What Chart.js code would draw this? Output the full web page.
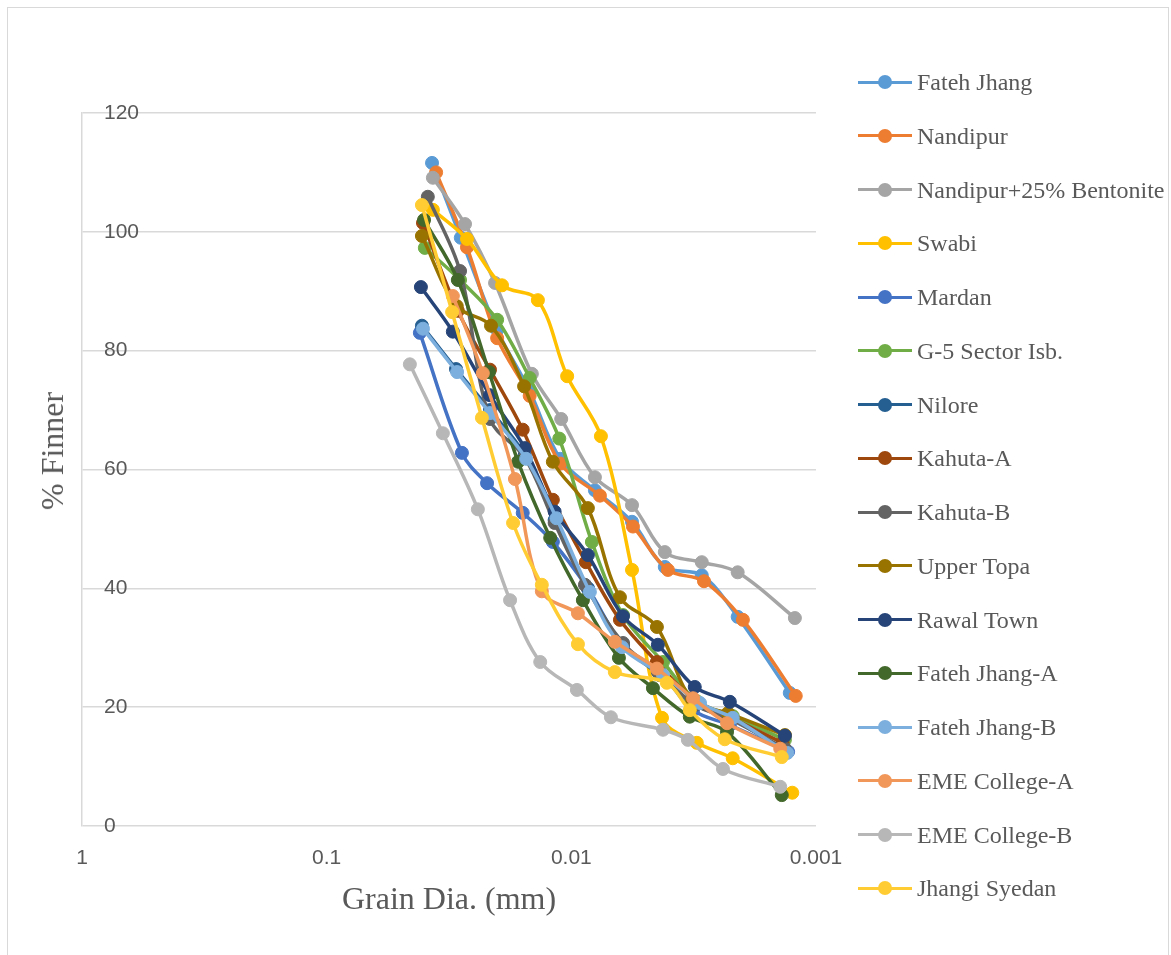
<!DOCTYPE html>
<html>
<head>
<meta charset="utf-8">
<title>Grain size distribution</title>
<script src="https://cdn.jsdelivr.net/npm/chart.js@4/dist/chart.umd.min.js"></script>
<style>
  html, body { margin: 0; padding: 0; background: #ffffff; }
  body { width: 1171px; height: 955px; position: relative; overflow: hidden; }
  #frame { position: absolute; left: 7px; top: 7px; width: 1162px; height: 970px;
           border: 1.5px solid #d9d9d9; box-sizing: border-box; }
  #chart { position: absolute; left: 0; top: 0; }
  .ttl { position: absolute; font-family: "Liberation Serif", "Times New Roman", serif;
         font-size: 32px; line-height: 32px; color: #595959; white-space: nowrap; }
  #xTitle { left: 449px; top: 882px; transform: translateX(-50%); }
  #yTitle { left: 52px; top: 451px; transform: translate(-50%, -50%) rotate(-90deg); }
  .lg-line { position: absolute; height: 3px; width: 54px; left: 858px; }
  .lg-dot { position: absolute; width: 14px; height: 14px; border-radius: 50%; left: 878px; }
  .lg-text { position: absolute; left: 917px; font-family: "Liberation Serif", "Times New Roman", serif;
             font-size: 24px; line-height: 24px; color: #595959; white-space: nowrap; }
</style>
</head>
<body>
<div id="frame"></div>
<canvas id="chart" width="1171" height="955"></canvas>
<div id="xTitle" class="ttl">Grain Dia. (mm)</div>
<div id="yTitle" class="ttl">% Finner</div>
<div id="legend"></div>
<script>
// Sample names, in plotting order
const seriesNames = [
  "Fateh Jhang", "Nandipur", "Nandipur+25%  Bentonite", "Swabi", "Mardan",
  "G-5 Sector Isb.", "Nilore", "Kahuta-A", "Kahuta-B", "Upper Topa",
  "Rawal Town", "Fateh Jhang-A", "Fateh Jhang-B", "EME College-A",
  "EME College-B", "Jhangi Syedan"
];

// Grain diameter (mm) and percent finer for each sample
const diaFatehJhang   = [0.0371, 0.0283, 0.0201, 0.0148, 0.0111, 0.00801, 0.00565, 0.00415, 0.00293, 0.00209, 0.00128];
const finerFatehJhang = [111.6, 99.0, 83.5, 73.2, 61.8, 56.5, 51.2, 43.6, 42.2, 35.2, 22.4];

const diaNandipur   = [0.0357, 0.0267, 0.0201, 0.0148, 0.0111, 0.00764, 0.00560, 0.00403, 0.00287, 0.00199, 0.00121];
const finerNandipur = [110.0, 97.4, 82.1, 72.4, 61.0, 55.6, 50.4, 43.1, 41.2, 34.7, 21.9];

const diaNandipurBent   = [0.0368, 0.0272, 0.0205, 0.0145, 0.0110, 0.00801, 0.00565, 0.00415, 0.00293, 0.00209, 0.00122];
const finerNandipurBent = [109.1, 101.3, 91.4, 76.1, 68.5, 58.7, 54.0, 46.1, 44.4, 42.7, 35.0];

const diaSwabi   = [0.0368, 0.0267, 0.0192, 0.0137, 0.0104, 0.00757, 0.00565, 0.00426, 0.00307, 0.00219, 0.00125];
const finerSwabi = [103.7, 98.8, 91.0, 88.5, 75.7, 65.6, 43.1, 18.2, 14.0, 11.4, 5.6];

const diaMardan   = [0.0416, 0.0280, 0.0221, 0.0158, 0.0119, 0.00856, 0.00615, 0.00435, 0.00318, 0.00225, 0.00130];
const finerMardan = [83.0, 62.8, 57.7, 52.7, 47.8, 40.0, 30.5, 26.0, 19.5, 17.0, 12.5];

const diaG5   = [0.0397, 0.0285, 0.0201, 0.0148, 0.0112, 0.00824, 0.00615, 0.00422, 0.00307, 0.00219, 0.00134];
const finerG5 = [97.3, 91.9, 85.2, 75.4, 65.2, 47.8, 35.5, 27.6, 21.0, 18.5, 14.5];

const diaNilore   = [0.0408, 0.0296, 0.0215, 0.0155, 0.0117, 0.00856, 0.00615, 0.00435, 0.00313, 0.00225, 0.00134];
const finerNilore = [84.2, 76.9, 70.0, 62.5, 51.5, 40.0, 30.5, 25.4, 20.4, 18.2, 12.8];

const diaKahutaA   = [0.0404, 0.0291, 0.0215, 0.0158, 0.0119, 0.00872, 0.00633, 0.00447, 0.00321, 0.00229, 0.00137];
const finerKahutaA = [101.5, 86.7, 76.8, 66.7, 54.9, 44.4, 34.7, 27.6, 21.5, 18.5, 14.0];

const diaKahutaB   = [0.0386, 0.0285, 0.0215, 0.0155, 0.0117, 0.00880, 0.00615, 0.00443, 0.00313, 0.00225, 0.00134];
const finerKahutaB = [105.9, 93.4, 68.5, 62.0, 51.0, 40.6, 30.8, 25.9, 20.4, 18.0, 13.0];

const diaUpperTopa   = [0.0408, 0.0294, 0.0213, 0.0156, 0.0119, 0.00856, 0.00633, 0.00447, 0.00321, 0.00229, 0.00134];
const finerUpperTopa = [99.3, 87.5, 84.2, 74.0, 61.3, 53.5, 38.5, 33.5, 21.2, 19.0, 15.3];

const diaRawalTown   = [0.0412, 0.0305, 0.0215, 0.0155, 0.0117, 0.00856, 0.00615, 0.00443, 0.00313, 0.00225, 0.00134];
const finerRawalTown = [90.7, 83.2, 72.5, 63.6, 52.9, 45.6, 35.3, 30.5, 23.4, 20.9, 15.2];

const diaFatehJhangA   = [0.0400, 0.0291, 0.0217, 0.0165, 0.0122, 0.00897, 0.00639, 0.00464, 0.00328, 0.00231, 0.00138];
const finerFatehJhangA = [102.0, 91.9, 76.4, 61.3, 48.5, 38.0, 28.3, 23.2, 18.4, 15.8, 5.2];

const diaFatehJhangB   = [0.0404, 0.0293, 0.0215, 0.0153, 0.0115, 0.00840, 0.00621, 0.00422, 0.00298, 0.00219, 0.00131];
const finerFatehJhangB = [83.7, 76.4, 69.5, 61.8, 51.8, 39.4, 30.1, 25.4, 20.7, 18.2, 12.3];

const diaEmeA   = [0.0305, 0.0230, 0.0170, 0.0132, 0.00940, 0.00664, 0.00447, 0.00318, 0.00231, 0.00140];
const finerEmeA = [89.2, 76.2, 58.4, 39.5, 35.8, 31.0, 26.5, 21.5, 17.3, 13.0];

const diaEmeB   = [0.0457, 0.0335, 0.0241, 0.0178, 0.0134, 0.00949, 0.00689, 0.00422, 0.00334, 0.00240, 0.00140];
const finerEmeB = [77.7, 66.1, 53.3, 38.0, 27.6, 22.9, 18.3, 16.2, 14.5, 9.6, 6.6];

const diaJhangiSyedan   = [0.0408, 0.0307, 0.0232, 0.0173, 0.0132, 0.00940, 0.00664, 0.00407, 0.00328, 0.00236, 0.00138];
const finerJhangiSyedan = [104.5, 86.5, 68.7, 51.0, 40.6, 30.6, 25.9, 24.1, 19.5, 14.6, 11.6];

const grainDia = [
  diaFatehJhang, diaNandipur, diaNandipurBent, diaSwabi, diaMardan, diaG5, diaNilore,
  diaKahutaA, diaKahutaB, diaUpperTopa, diaRawalTown, diaFatehJhangA, diaFatehJhangB,
  diaEmeA, diaEmeB, diaJhangiSyedan
];
const percentFiner = [
  finerFatehJhang, finerNandipur, finerNandipurBent, finerSwabi, finerMardan, finerG5, finerNilore,
  finerKahutaA, finerKahutaB, finerUpperTopa, finerRawalTown, finerFatehJhangA, finerFatehJhangB,
  finerEmeA, finerEmeB, finerJhangiSyedan
];

// Axis ticks
const xTickValues = [1, 0.1, 0.01, 0.001];
const xTickLabels = ["1", "0.1", "0.01", "0.001"];
const yTickValues = [0, 20, 40, 60, 80, 100, 120];

// Series colours
const palette = [
  "#5B9BD5", "#ED7D31", "#A5A5A5", "#FFC000", "#4472C4", "#70AD47",
  "#255E91", "#9E480E", "#636363", "#997300", "#264478", "#43682B",
  "#7CAFDD", "#F1975A", "#B7B7B7", "#FFCD33"
];

const tickFont = { family: "'Liberation Sans', Arial, sans-serif", size: 21 };
const axisGrey = "#595959";

const datasets = seriesNames.map((name, i) => ({
  label: name,
  data: grainDia[i].map((d, k) => ({ x: d, y: percentFiner[i][k] })),
  borderColor: palette[i],
  backgroundColor: palette[i],
  pointBackgroundColor: palette[i],
  pointBorderColor: palette[i],
  borderWidth: 3.5,
  pointRadius: 6.5,
  pointBorderWidth: 1,
  pointHoverRadius: 6.5,
  tension: 0.35,
  fill: false,
  order: seriesNames.length - i
}));

new Chart(document.getElementById("chart"), {
  type: "line",
  data: { datasets },
  options: {
    responsive: false,
    animation: false,
    events: [],
    layout: { padding: { top: 113, right: 355, bottom: 0, left: 0 } },
    plugins: { legend: { display: false }, tooltip: { enabled: false } },
    scales: {
      x: {
        type: "logarithmic",
        reverse: true,
        min: 0.001,
        max: 1,
        afterBuildTicks: s => { s.ticks = xTickValues.map(v => ({ value: v })); },
        afterFit: s => { s.height = 129; },
        grid: { display: false, drawTicks: false },
        border: { display: false },
        ticks: {
          autoSkip: false,
          maxRotation: 0,
          padding: 20,
          font: tickFont,
          color: axisGrey,
          callback: (v, idx) => xTickLabels[idx]
        }
      },
      y: {
        min: 0,
        max: 120,
        afterBuildTicks: s => { s.ticks = yTickValues.map(v => ({ value: v })); },
        afterFit: s => { s.width = 82; },
        grid: { color: "#d9d9d9", lineWidth: 1.5, drawTicks: false },
        border: { display: true, color: "#d9d9d9", width: 1.5 },
        ticks: { mirror: true, padding: 22, font: tickFont, color: axisGrey }
      }
    }
  }
});

// Legend on the right
const legend = document.getElementById("legend");
seriesNames.forEach((name, i) => {
  const cy = 82 + i * 53.76;
  const line = document.createElement("div");
  line.className = "lg-line";
  line.style.top = (cy - 1.5) + "px";
  line.style.background = palette[i];
  const dot = document.createElement("div");
  dot.className = "lg-dot";
  dot.style.top = (cy - 7) + "px";
  dot.style.background = palette[i];
  const txt = document.createElement("div");
  txt.className = "lg-text";
  txt.style.top = (cy - 12) + "px";
  txt.textContent = name;
  legend.append(line, dot, txt);
});
</script>
</body>
</html>
